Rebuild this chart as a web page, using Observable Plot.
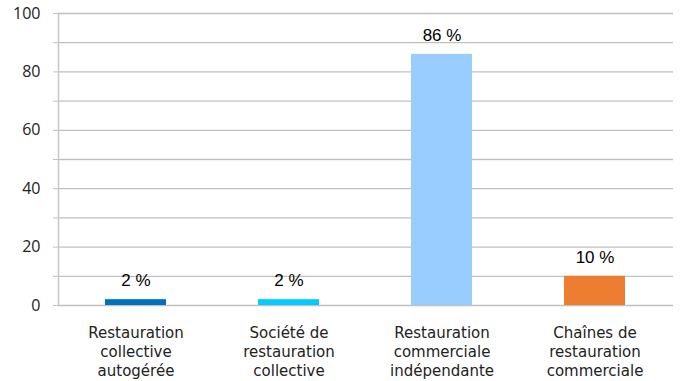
<!DOCTYPE html>
<html>
<head>
<meta charset="utf-8">
<script src="https://cdn.jsdelivr.net/npm/d3@7"></script>
<script src="https://cdn.jsdelivr.net/npm/@observablehq/plot@0.6"></script>
<style>
  html, body { margin: 0; padding: 0; background: #fff; }
  #chart svg { display: block; }
</style>
</head>
<body>
<div id="chart"></div>
<script>
const categories = [
  "Restauration\ncollective\nautogérée",
  "Société de\nrestauration\ncollective",
  "Restauration\ncommerciale\nindépendante",
  "Chaînes de\nrestauration\ncommerciale"
];
const values = [2, 2, 86, 10];
const valueLabels = ["2 %", "2 %", "86 %", "10 %"];
const colors = ["#0070C0", "#00CCFF", "#99CCFF", "#ED7D31"];
const yTicks = [0, 10, 20, 30, 40, 50, 60, 70, 80, 90, 100];
const yLabelTicks = [0, 20, 40, 60, 80, 100];

const data = categories.map((c, i) => ({cat: c, value: values[i], label: valueLabels[i], color: colors[i]}));

const chart = Plot.plot({
  width: 680,
  height: 381,
  marginTop: 13,
  marginBottom: 76,
  marginLeft: 58,
  marginRight: 7,
  style: {fontFamily: "'Open Sans', sans-serif", fontSize: "16px", color: "#222"},
  x: {domain: categories, paddingInner: 0.6, paddingOuter: 0.3, label: null},
  y: {domain: [0, 100], label: null},
  marks: [
    Plot.ruleY(yTicks, {stroke: "#c0c0c0", strokeWidth: 1.3}),
    Plot.axisY(yTicks, {
      tickSize: 5, tickPadding: 13, stroke: "#c0c0c0",
      tickFormat: d => yLabelTicks.includes(d) ? String(d) : "",
      fontSize: 16, fill: "#222", label: null
    }),
    Plot.frame({anchor: "left", stroke: "#c8c8c8", strokeWidth: 1.5}),
    Plot.barY(data, {x: "cat", y: "value", fill: "color"}),
    Plot.text(data, {x: "cat", y: "value", text: "label", dy: -19, fontSize: 17,
      fontFamily: "'Liberation Sans', Arial, sans-serif", fill: "#000"}),
    Plot.axisX({tickSize: 0, tickPadding: 19, lineHeight: 1.27, fontSize: 15,
      fontFamily: "'DejaVu Sans', sans-serif", fill: "#222", label: null})
  ]
});
document.getElementById("chart").appendChild(chart);
</script>
</body>
</html>
